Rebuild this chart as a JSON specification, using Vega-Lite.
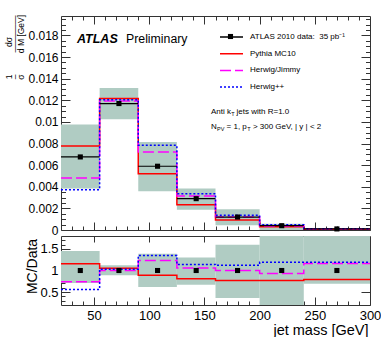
{
  "$schema": "https://vega.github.io/schema/vega-lite/v6.json",
  "padding": {"left": 5, "top": 14, "right": 0, "bottom": 0},
  "background": "white",
  "bounds": "flush",
  "spacing": 6,
  "config": {
    "view": {"stroke": null},
    "font": "Liberation Sans",
    "axis": {"labelFont": "Liberation Sans", "titleFont": "Liberation Sans", "labelColor": "black", "titleColor": "black", "domainColor": "#333", "tickColor": "#333", "grid": false, "titleFontWeight": "normal", "labelFlush": false, "labelOverlap": false}
  },
  "datasets": {
    "bins": [
      {"lo": 20, "hi": 55, "mass": 37.5, "data": 0.00676, "bandLo": 0.00383, "bandHi": 0.00975, "rLo": 0.71, "rHi": 1.45},
      {"lo": 55, "hi": 90, "mass": 72.5, "data": 0.0117, "bandLo": 0.01024, "bandHi": 0.01314, "rLo": 0.89, "rHi": 1.12},
      {"lo": 90, "hi": 125, "mass": 107.5, "data": 0.0059, "bandLo": 0.00358, "bandHi": 0.00815, "rLo": 0.62, "rHi": 1.39},
      {"lo": 125, "hi": 160, "mass": 142.5, "data": 0.0029, "bandLo": 0.00188, "bandHi": 0.00383, "rLo": 0.67, "rHi": 1.3},
      {"lo": 160, "hi": 200, "mass": 180, "data": 0.0012, "bandLo": 0.00044, "bandHi": 0.00192, "rLo": 0.36, "rHi": 1.6},
      {"lo": 200, "hi": 240, "mass": 220, "data": 0.0004, "bandLo": 0, "bandHi": 0.00058, "rLo": 0.2, "rHi": 1.8},
      {"lo": 240, "hi": 300, "mass": 270, "data": 0.0001, "bandLo": 0.00003, "bandHi": 0.00017, "rLo": 0.69, "rHi": 1.8}
    ],
    "mc": [
      {"series": "Pythia MC10", "m": 20, "v": 0.00778, "r": 1.155},
      {"series": "Pythia MC10", "m": 55, "v": 0.01216, "r": 1.05},
      {"series": "Pythia MC10", "m": 90, "v": 0.00521, "r": 0.89},
      {"series": "Pythia MC10", "m": 125, "v": 0.00234, "r": 0.81},
      {"series": "Pythia MC10", "m": 160, "v": 0.00093, "r": 0.77},
      {"series": "Pythia MC10", "m": 200, "v": 0.0003, "r": 0.77},
      {"series": "Pythia MC10", "m": 240, "v": 0.00008, "r": 0.79},
      {"series": "Pythia MC10", "m": 300, "v": 0.00008, "r": 0.79},
      {"series": "Herwig/Jimmy", "m": 20, "v": 0.00481, "r": 0.74},
      {"series": "Herwig/Jimmy", "m": 55, "v": 0.01194, "r": 1.0},
      {"series": "Herwig/Jimmy", "m": 90, "v": 0.00722, "r": 1.23},
      {"series": "Herwig/Jimmy", "m": 125, "v": 0.00315, "r": 1.06},
      {"series": "Herwig/Jimmy", "m": 160, "v": 0.0012, "r": 1.0},
      {"series": "Herwig/Jimmy", "m": 200, "v": 0.00037, "r": 0.93},
      {"series": "Herwig/Jimmy", "m": 240, "v": 0.000116, "r": 1.16},
      {"series": "Herwig/Jimmy", "m": 300, "v": 0.000116, "r": 1.16},
      {"series": "Herwig++", "m": 20, "v": 0.00373, "r": 0.56},
      {"series": "Herwig++", "m": 55, "v": 0.01204, "r": 1.03},
      {"series": "Herwig++", "m": 90, "v": 0.00784, "r": 1.35},
      {"series": "Herwig++", "m": 125, "v": 0.00336, "r": 1.14},
      {"series": "Herwig++", "m": 160, "v": 0.00136, "r": 1.12},
      {"series": "Herwig++", "m": 200, "v": 0.00048, "r": 1.19},
      {"series": "Herwig++", "m": 240, "v": 0.00012, "r": 1.19},
      {"series": "Herwig++", "m": 300, "v": 0.00012, "r": 1.19}
    ]
  },
  "resolve": {"legend": {"color": "independent", "strokeDash": "independent", "shape": "independent"}},
  "vconcat": [
    {
      "width": 309,
      "height": 214,
      "resolve": {"axis": {"x": "independent", "y": "independent"}},
      "layer": [
        {
          "data": {"name": "bins"},
          "mark": {"type": "rect", "color": "#b0ccc3"},
          "encoding": {
            "x": {"field": "lo", "type": "quantitative", "scale": {"domain": [20, 300], "nice": false, "zero": false},
              "axis": {"orient": "bottom", "values": [50, 100, 150, 200, 250, 300], "labels": false, "tickSize": -8, "domain": true, "title": null}},
            "x2": {"field": "hi"},
            "y": {"field": "bandLo", "type": "quantitative", "scale": {"domain": [0, 0.0198], "nice": false, "zero": false},
              "axis": {"orient": "left", "values": [0, 0.002, 0.004, 0.006, 0.008, 0.01, 0.012, 0.014, 0.016, 0.018], "format": ".3~f", "tickSize": -9, "labelPadding": 12, "labelFontSize": 12, "domain": true, "title": null}},
            "y2": {"field": "bandHi"}
          }
        },
        {
          "data": {"name": "mc"},
          "mark": {"type": "line", "interpolate": "step-after", "strokeWidth": 1.5},
          "encoding": {
            "x": {"field": "m", "type": "quantitative", "scale": {"domain": [20, 300], "nice": false, "zero": false},
              "axis": {"orient": "bottom", "values": [30, 40, 60, 70, 80, 90, 110, 120, 130, 140, 160, 170, 180, 190, 210, 220, 230, 240, 260, 270, 280, 290], "labels": false, "tickSize": -4, "domain": false, "title": null}},
            "y": {"field": "v", "type": "quantitative", "scale": {"domain": [0, 0.0198], "nice": false, "zero": false},
              "axis": {"orient": "left", "values": [0.0005, 0.001, 0.0015, 0.0025, 0.003, 0.0035, 0.0045, 0.005, 0.0055, 0.0065, 0.007, 0.0075, 0.0085, 0.009, 0.0095, 0.0105, 0.011, 0.0115, 0.0125, 0.013, 0.0135, 0.0145, 0.015, 0.0155, 0.0165, 0.017, 0.0175, 0.0185, 0.019, 0.0195], "labels": false, "tickSize": -4.5, "domain": false, "title": null}},
            "color": {"field": "series", "type": "nominal",
              "scale": {"domain": ["ATLAS 2010 data:\u00a0\u00a035 pb⁻¹", "Pythia MC10", "Herwig/Jimmy", "Herwig++"], "range": ["black", "#ff0000", "#ff00ff", "#0000ff"]},
              "legend": {"title": null, "orient": "none", "legendX": 164.5, "legendY": 15, "padding": 0, "labelFont": "Liberation Sans", "labelFontSize": 8, "labelColor": "black", "labelOffset": 12.5, "labelLimit": 300, "symbolSize": 100, "symbolStrokeWidth": 1.5, "rowPadding": 6.7, "symbolType": "M-2.3,0H2.3"}},
            "strokeDash": {"field": "series", "type": "nominal",
              "scale": {"domain": ["ATLAS 2010 data:\u00a0\u00a035 pb⁻¹", "Pythia MC10", "Herwig/Jimmy", "Herwig++"], "range": [[1, 0], [1, 0], [11, 4], [2, 2]]},
              "legend": {"title": null, "orient": "none", "legendX": 164.5, "legendY": 15, "padding": 0, "labelFont": "Liberation Sans", "labelFontSize": 8, "labelColor": "black", "labelOffset": 12.5, "labelLimit": 300, "symbolSize": 100, "symbolStrokeWidth": 1.5, "rowPadding": 6.7, "symbolType": "M-2.3,0H2.3"}}
          }
        },
        {
          "data": {"name": "bins"},
          "mark": {"type": "rule", "color": "black", "strokeWidth": 1.2},
          "encoding": {
            "x": {"field": "lo", "type": "quantitative", "scale": {"domain": [20, 300], "nice": false, "zero": false},
              "axis": {"orient": "top", "values": [50, 100, 150, 200, 250], "labels": false, "tickSize": -8, "domain": true, "title": null}},
            "x2": {"field": "hi"},
            "y": {"field": "data", "type": "quantitative", "scale": {"domain": [0, 0.0198], "nice": false, "zero": false},
              "axis": {"orient": "right", "values": [0.002, 0.004, 0.006, 0.008, 0.01, 0.012, 0.014, 0.016, 0.018], "labels": false, "tickSize": -9, "domain": true, "title": null}}
          }
        },
        {
          "data": {"name": "bins"},
          "mark": {"type": "point", "shape": "square", "color": "black", "filled": true, "size": 26, "opacity": 1},
          "encoding": {
            "x": {"field": "mass", "type": "quantitative", "scale": {"domain": [20, 300], "nice": false, "zero": false},
              "axis": {"orient": "top", "values": [30, 40, 60, 70, 80, 90, 110, 120, 130, 140, 160, 170, 180, 190, 210, 220, 230, 240, 260, 270, 280, 290], "labels": false, "tickSize": -4, "domain": false, "title": null}},
            "y": {"field": "data", "type": "quantitative", "scale": {"domain": [0, 0.0198], "nice": false, "zero": false},
              "axis": {"orient": "right", "values": [0.0005, 0.001, 0.0015, 0.0025, 0.003, 0.0035, 0.0045, 0.005, 0.0055, 0.0065, 0.007, 0.0075, 0.0085, 0.009, 0.0095, 0.0105, 0.011, 0.0115, 0.0125, 0.013, 0.0135, 0.0145, 0.015, 0.0155, 0.0165, 0.017, 0.0175, 0.0185, 0.019, 0.0195], "labels": false, "tickSize": -4.5, "domain": false, "title": null}},
            "shape": {"datum": "data", "type": "nominal", "scale": {"domain": ["data"], "range": ["square"]},
              "legend": {"title": null, "orient": "none", "legendX": 166.5, "legendY": 17.5, "padding": 0, "symbolSize": 26, "symbolFillColor": "black", "symbolStrokeColor": "black", "symbolStrokeWidth": 0, "labelExpr": "''", "labelFontSize": 1}}
          }
        },
        {
          "data": {"values": [{}]},
          "mark": {"type": "text", "text": "1", "angle": 270, "align": "center", "baseline": "middle", "fontSize": 8.5, "color": "black"},
          "encoding": {"x": {"datum": -27.1, "type": "quantitative", "axis": null}, "y": {"datum": 0.014156, "type": "quantitative", "axis": null}}
        },
        {
          "data": {"values": [{}]},
          "mark": {"type": "text", "text": "–", "angle": 270, "align": "center", "baseline": "middle", "fontSize": 8.5, "color": "black"},
          "encoding": {"x": {"datum": -22.1, "type": "quantitative", "axis": null}, "y": {"datum": 0.014156, "type": "quantitative", "axis": null}}
        },
        {
          "data": {"values": [{}]},
          "mark": {"type": "text", "text": "σ", "angle": 270, "align": "center", "baseline": "middle", "fontSize": 8.5, "color": "black"},
          "encoding": {"x": {"datum": -16.2, "type": "quantitative", "axis": null}, "y": {"datum": 0.014156, "type": "quantitative", "axis": null}}
        },
        {
          "data": {"values": [{}]},
          "mark": {"type": "text", "text": "dσ", "angle": 270, "align": "center", "baseline": "middle", "fontSize": 8.5, "color": "black"},
          "encoding": {"x": {"datum": -27.1, "type": "quantitative", "axis": null}, "y": {"datum": 0.017393, "type": "quantitative", "axis": null}}
        },
        {
          "data": {"values": [{}]},
          "mark": {"type": "text", "text": "————", "angle": 270, "align": "center", "baseline": "middle", "fontSize": 9.3, "color": "black"},
          "encoding": {"x": {"datum": -22.1, "type": "quantitative", "axis": null}, "y": {"datum": 0.018134, "type": "quantitative", "axis": null}}
        },
        {
          "data": {"values": [{}]},
          "mark": {"type": "text", "text": "d M [GeV]", "angle": 270, "align": "center", "baseline": "middle", "fontSize": 8.5, "color": "black"},
          "encoding": {"x": {"datum": -16.2, "type": "quantitative", "axis": null}, "y": {"datum": 0.018134, "type": "quantitative", "axis": null}}
        },
        {
          "data": {"values": [{}]},
          "mark": {"type": "text", "text": "ATLAS", "align": "left", "baseline": "middle", "fontSize": 12.5, "fontWeight": "bold", "fontStyle": "italic", "color": "black"},
          "encoding": {"x": {"datum": 34.5, "type": "quantitative", "axis": null}, "y": {"datum": 0.01767, "type": "quantitative", "axis": null}}
        },
        {
          "data": {"values": [{}]},
          "mark": {"type": "text", "text": "Preliminary", "align": "left", "baseline": "middle", "fontSize": 12.3, "color": "black"},
          "encoding": {"x": {"datum": 78.9, "type": "quantitative", "axis": null}, "y": {"datum": 0.01767, "type": "quantitative", "axis": null}}
        },
        {
          "data": {"values": [{}]},
          "mark": {"type": "text", "text": "Anti k", "align": "left", "baseline": "middle", "fontSize": 8, "color": "black"},
          "encoding": {"x": {"datum": 155.9, "type": "quantitative", "axis": null}, "y": {"datum": 0.01092, "type": "quantitative", "axis": null}}
        },
        {
          "data": {"values": [{}]},
          "mark": {"type": "text", "text": "T", "align": "left", "baseline": "middle", "fontSize": 5.5, "dx": 20.2, "dy": 2.5, "color": "black"},
          "encoding": {"x": {"datum": 155.9, "type": "quantitative", "axis": null}, "y": {"datum": 0.01092, "type": "quantitative", "axis": null}}
        },
        {
          "data": {"values": [{}]},
          "mark": {"type": "text", "text": "jets with R=1.0", "align": "left", "baseline": "middle", "fontSize": 8, "dx": 25.6, "color": "black"},
          "encoding": {"x": {"datum": 155.9, "type": "quantitative", "axis": null}, "y": {"datum": 0.01092, "type": "quantitative", "axis": null}}
        },
        {
          "data": {"values": [{}]},
          "mark": {"type": "text", "text": "N", "align": "left", "baseline": "middle", "fontSize": 8, "color": "black"},
          "encoding": {"x": {"datum": 155.9, "type": "quantitative", "axis": null}, "y": {"datum": 0.00953, "type": "quantitative", "axis": null}}
        },
        {
          "data": {"values": [{}]},
          "mark": {"type": "text", "text": "PV", "align": "left", "baseline": "middle", "fontSize": 5.5, "dx": 6.1, "dy": 2.5, "color": "black"},
          "encoding": {"x": {"datum": 155.9, "type": "quantitative", "axis": null}, "y": {"datum": 0.00953, "type": "quantitative", "axis": null}}
        },
        {
          "data": {"values": [{}]},
          "mark": {"type": "text", "text": "= 1, p", "align": "left", "baseline": "middle", "fontSize": 8, "dx": 15.6, "color": "black"},
          "encoding": {"x": {"datum": 155.9, "type": "quantitative", "axis": null}, "y": {"datum": 0.00953, "type": "quantitative", "axis": null}}
        },
        {
          "data": {"values": [{}]},
          "mark": {"type": "text", "text": "T", "align": "left", "baseline": "middle", "fontSize": 5.5, "dx": 36.3, "dy": 2.5, "color": "black"},
          "encoding": {"x": {"datum": 155.9, "type": "quantitative", "axis": null}, "y": {"datum": 0.00953, "type": "quantitative", "axis": null}}
        },
        {
          "data": {"values": [{}]},
          "mark": {"type": "text", "text": "> 300 GeV, | y | < 2", "align": "left", "baseline": "middle", "fontSize": 8, "dx": 41.9, "color": "black"},
          "encoding": {"x": {"datum": 155.9, "type": "quantitative", "axis": null}, "y": {"datum": 0.00953, "type": "quantitative", "axis": null}}
        }
      ]
    },
    {
      "width": 309,
      "height": 69,
      "resolve": {"axis": {"x": "independent", "y": "independent"}},
      "layer": [
        {
          "data": {"name": "bins"},
          "mark": {"type": "rect", "color": "#b0ccc3"},
          "encoding": {
            "x": {"field": "lo", "type": "quantitative", "scale": {"domain": [20, 300], "nice": false, "zero": false},
              "axis": {"orient": "bottom", "values": [50, 100, 150, 200, 250, 300], "format": "d", "tickSize": -8, "labelPadding": 12, "labelFontSize": 13, "domain": true,
                "title": "jet mass [GeV]", "titleFontSize": 14.5, "titleAlign": "right", "titleBaseline": "middle", "titleX": 307, "titleY": 25}},
            "x2": {"field": "hi"},
            "y": {"field": "rLo", "type": "quantitative", "scale": {"domain": [0.2, 1.8], "nice": false, "zero": false},
              "axis": {"orient": "left", "values": [0.5, 1, 1.5], "format": ".1~f", "tickSize": -9, "labelPadding": 12, "labelFontSize": 13, "domain": true,
                "title": "MC/Data", "titleFontSize": 14, "titleAngle": 270, "titleAlign": "center", "titleBaseline": "middle", "titleX": -29, "titleY": 30}},
            "y2": {"field": "rHi"}
          }
        },
        {
          "data": {"name": "mc"},
          "mark": {"type": "line", "interpolate": "step-after", "strokeWidth": 1.5},
          "encoding": {
            "x": {"field": "m", "type": "quantitative", "scale": {"domain": [20, 300], "nice": false, "zero": false},
              "axis": {"orient": "bottom", "values": [30, 40, 60, 70, 80, 90, 110, 120, 130, 140, 160, 170, 180, 190, 210, 220, 230, 240, 260, 270, 280, 290], "labels": false, "tickSize": -4, "domain": false, "title": null}},
            "y": {"field": "r", "type": "quantitative", "scale": {"domain": [0.2, 1.8], "nice": false, "zero": false},
              "axis": {"orient": "left", "values": [0.3, 0.4, 0.6, 0.7, 0.8, 0.9, 1.1, 1.2, 1.3, 1.4, 1.6, 1.7], "labels": false, "tickSize": -4, "domain": false, "title": null}},
            "color": {"field": "series", "type": "nominal",
              "scale": {"domain": ["ATLAS 2010 data:\u00a0\u00a035 pb⁻¹", "Pythia MC10", "Herwig/Jimmy", "Herwig++"], "range": ["black", "#ff0000", "#ff00ff", "#0000ff"]}, "legend": null},
            "strokeDash": {"field": "series", "type": "nominal",
              "scale": {"domain": ["ATLAS 2010 data:\u00a0\u00a035 pb⁻¹", "Pythia MC10", "Herwig/Jimmy", "Herwig++"], "range": [[1, 0], [1, 0], [11, 4], [2, 2]]}, "legend": null}
          }
        },
        {
          "data": {"name": "bins"},
          "mark": {"type": "point", "shape": "square", "color": "black", "filled": true, "size": 26, "opacity": 1},
          "encoding": {
            "x": {"field": "mass", "type": "quantitative", "scale": {"domain": [20, 300], "nice": false, "zero": false},
              "axis": {"orient": "top", "values": [50, 100, 150, 200, 250], "labels": false, "tickSize": -6, "domain": true, "title": null}},
            "y": {"datum": 1, "type": "quantitative", "scale": {"domain": [0.2, 1.8], "nice": false, "zero": false},
              "axis": {"orient": "right", "values": [0.5, 1, 1.5], "labels": false, "tickSize": -9, "domain": true, "title": null}}
          }
        }
      ]
    }
  ]
}
